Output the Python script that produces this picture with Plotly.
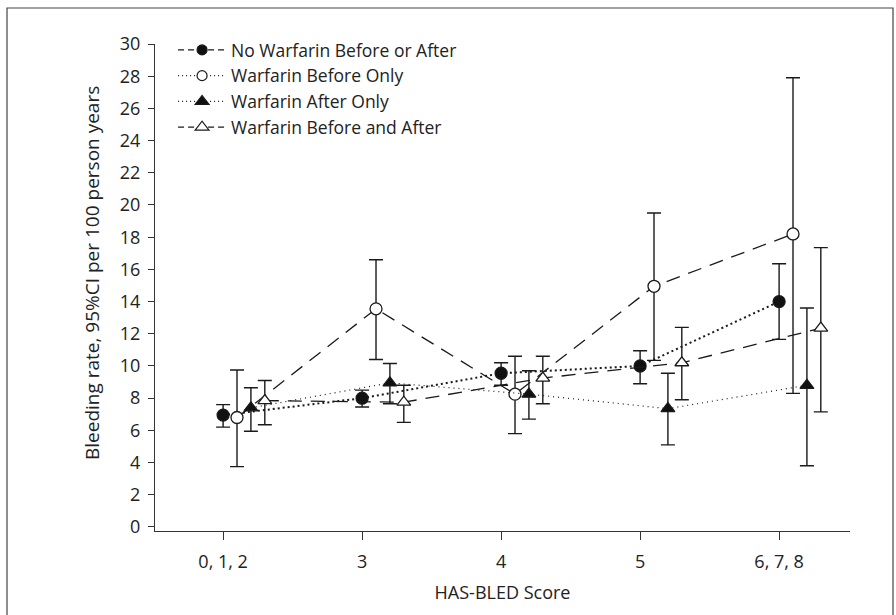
import plotly.graph_objects as go

categories = ["0, 1, 2", "3", "4", "5", "6, 7, 8"]

no_warf = [6.95, 8.0, 9.55, 10.0, 14.0]
no_warf_hi = [7.6, 8.5, 10.2, 10.95, 16.35]
no_warf_lo = [6.2, 7.45, 8.8, 8.9, 11.65]

before_only = [6.8, 13.55, 8.25, 14.95, 18.2]
before_only_hi = [9.75, 16.6, 10.6, 19.5, 27.9]
before_only_lo = [3.75, 10.4, 5.8, 10.35, 8.3]

after_only = [7.4, 8.95, 8.25, 7.35, 8.8]
after_only_hi = [8.65, 10.15, 9.7, 9.55, 13.6]
after_only_lo = [5.95, 7.65, 6.7, 5.1, 3.8]

both = [7.85, 7.75, 9.25, 10.2, 12.35]
both_hi = [9.1, 8.8, 10.6, 12.4, 17.35]
both_lo = [6.35, 6.5, 7.65, 7.9, 7.15]

names = ["No Warfarin Before or After", "Warfarin Before Only",
         "Warfarin After Only", "Warfarin Before and After"]
offsets = [0.0, 0.1, 0.2, 0.3]

series = [
    (no_warf, no_warf_hi, no_warf_lo, "circle", "#111111", dict(dash="2px,3px", width=2)),
    (before_only, before_only_hi, before_only_lo, "circle", "white", dict(dash="14px,9px", width=1.3)),
    (after_only, after_only_hi, after_only_lo, "triangle-up", "#111111", dict(dash="1px,4px", width=1.2)),
    (both, both_hi, both_lo, "triangle-up", "white", dict(dash="14px,9px", width=1.3)),
]
legend_dash = ["6px,4px", "1px,3px", "1px,3px", "6px,4px"]

BLACK = "#1a1a1a"
FONT = "Open Sans"

fig = go.Figure()
for i, (vals, hi, lo, sym, fill, line) in enumerate(series):
    xs = [k + offsets[i] for k in range(len(categories))]
    fig.add_trace(go.Scatter(
        x=xs, y=vals, mode="lines+markers", showlegend=False,
        line=dict(color=BLACK, **line),
        marker=dict(symbol=sym, size=12, color=fill, line=dict(color=BLACK, width=1.3)),
        error_y=dict(type="data", symmetric=False,
                     array=[h - v for h, v in zip(hi, vals)],
                     arrayminus=[v - l for v, l in zip(vals, lo)],
                     color=BLACK, thickness=1.4, width=7),
    ))

for i, (vals, hi, lo, sym, fill, line) in enumerate(series):
    fig.add_trace(go.Scatter(
        x=[None], y=[None], mode="lines+markers", name=names[i],
        line=dict(color=BLACK, dash=legend_dash[i], width=1.2),
        marker=dict(symbol=sym, size=12 if sym != "circle" else 10, color=fill,
                    line=dict(color=BLACK, width=1.2)),
    ))

W, H = 896, 615
l, r, t, b = 155, 46, 44, 84
pw, ph = W - l - r, H - t - b

fig.update_layout(
    width=W, height=H,
    margin=dict(l=l, r=r, t=t, b=b),
    paper_bgcolor="white", plot_bgcolor="white",
    font=dict(family=FONT, size=18, color="#222222"),
    showlegend=True,
    legend=dict(x=0.026, y=1.0246, xanchor="left", yanchor="top",
                bgcolor="rgba(0,0,0,0)", font=dict(size=17.5, family=FONT),
                tracegroupgap=0, itemwidth=48),
    xaxis=dict(
        range=[-0.49, 4.51], tickmode="array",
        tickvals=list(range(len(categories))), ticktext=categories,
        showgrid=False, zeroline=False, showline=True, linecolor="#333333", linewidth=1,
        ticks="outside", ticklen=8, tickcolor="#333333",
        tickfont=dict(size=18), ticklabelstandoff=6,
        title=dict(text="HAS-BLED Score", font=dict(size=18), standoff=14),
    ),
    yaxis=dict(
        range=[-0.25, 30], tickmode="array", tickvals=list(range(0, 31, 2)),
        showgrid=False, zeroline=False, showline=True, linecolor="#333333", linewidth=1,
        ticks="outside", ticklen=6, tickcolor="#333333",
        tickfont=dict(size=18), ticklabelstandoff=4,
    ),
)

# y-axis title as a rotated annotation (placed slightly above centre, as in the reference)
fig.add_annotation(text="Bleeding rate, 95%CI per 100 person years",
                   xref="paper", yref="paper",
                   x=(92 - l) / pw, y=(H - b - 273) / ph,
                   xanchor="center", yanchor="middle",
                   textangle=-90, showarrow=False,
                   font=dict(size=19, family=FONT, color="#222222"))

# outer frame around the figure
fig.add_shape(type="rect", xref="paper", yref="paper",
              x0=(7 - l) / pw, x1=(893 - l) / pw,
              y0=(H - b - (H + 5)) / ph, y1=(H - b - 8) / ph,
              line=dict(color="#444444", width=1.2), fillcolor="rgba(0,0,0,0)",
              layer="below")

fig.write_html("out.html", config={"displayModeBar": False},
               post_script="document.body.style.margin='0';")
